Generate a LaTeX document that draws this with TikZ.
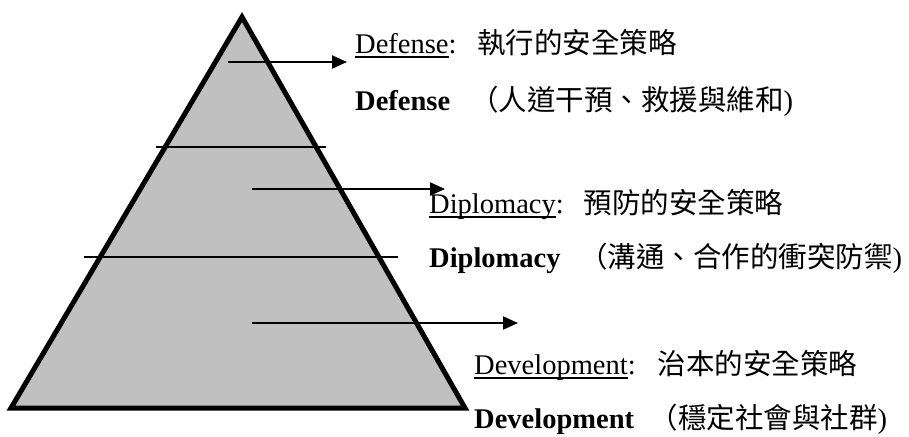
\documentclass[tikz,border=0pt]{standalone}
\usepackage{fontspec}
\setmainfont{Liberation Serif}
\newfontfamily\cjk{Noto Sans CJK TC}
\usetikzlibrary{arrows.meta}
\definecolor{silver}{HTML}{C0C0C0}
\newcommand\myul[1]{\setbox0\hbox{#1}\rlap{\rule[-5pt]{\wd0}{1.6pt}}\box0}
\begin{document}
\begin{tikzpicture}[x=1pt,y=-1pt,
  lbl/.style={anchor=base west,inner sep=0pt,font=\fontsize{28.5}{34}\selectfont},
  tier/.style={line width=1.8pt},
  pointer/.style={line width=2pt,-{Triangle[length=15pt,width=13pt]}},
  pyr/.style={fill=silver,draw=black,line width=5pt,line join=miter}]
\useasboundingbox (0,0) rectangle (909,436);
\coordinate (apex) at (242,17);
\coordinate (bl) at (11,408);
\coordinate (br) at (465,408);
\draw[pyr] (apex) -- (bl) -- (br) -- cycle;
% tier lines
\coordinate (t1a) at (156,147);
\coordinate (t1b) at (326,147);
\coordinate (t2a) at (84,257);
\coordinate (t2b) at (398,257);
\draw[tier] (t1a) -- (t1b);
\draw[tier] (t2a) -- (t2b);
% arrows
\coordinate (a1s) at (228,62);
\coordinate (a1e) at (347,62);
\coordinate (a2s) at (252,189);
\coordinate (a2e) at (445,189);
\coordinate (a3s) at (252,323);
\coordinate (a3e) at (518,323);
\draw[pointer] (a1s) -- (a1e);
\draw[pointer] (a2s) -- (a2e);
\draw[pointer] (a3s) -- (a3e);
% labels
\node[lbl] (def1) at (355,53) {\myul{Defense}:\hspace{21pt}{\cjk 執行的安全策略}};
\node[lbl] (def2) at (355,110) {\textbf{Defense}\hspace{20pt}{\cjk （人道干預、救援與維和})};
\node[lbl] (dip1) at (429,213) {\myul{Diplomacy}:\hspace{20pt}{\cjk 預防的安全策略}};
\node[lbl] (dip2) at (429,267) {\textbf{Diplomacy}\hspace{18.6pt}{\cjk （溝通、合作的衝突防禦})};
\node[lbl] (dev1) at (474,374) {\myul{Development}:\hspace{22pt}{\cjk 治本的安全策略}};
\node[lbl] (dev2) at (474,428) {\textbf{Development}\hspace{15.6pt}{\cjk （穩定社會與社群})};
\end{tikzpicture}
\end{document}
